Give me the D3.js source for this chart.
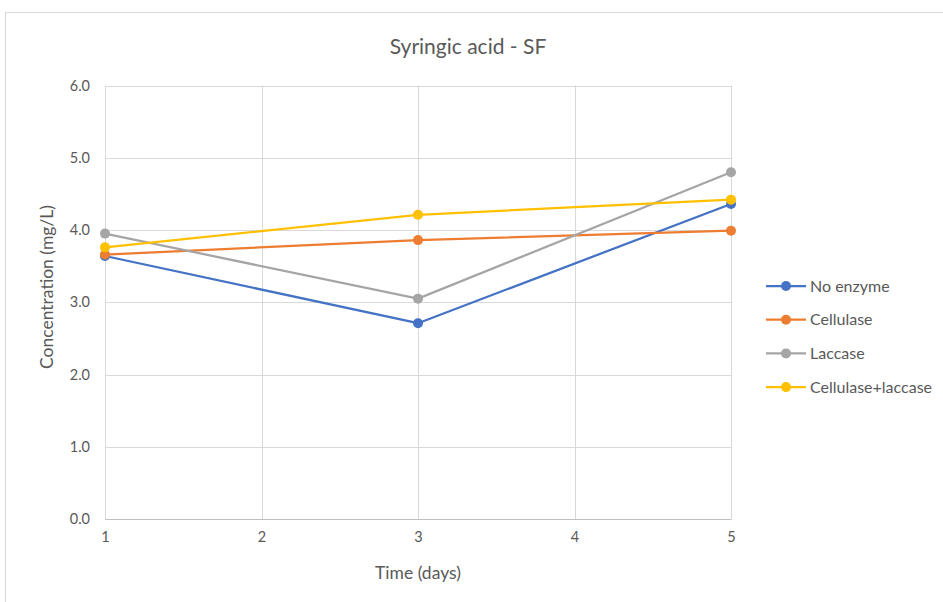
<!DOCTYPE html>
<html><head><meta charset="utf-8">
<script src="https://cdn.jsdelivr.net/npm/d3@7"></script>
<style>body{margin:0;background:#fff;}svg{display:block;font-family:Lato,"Open Sans",sans-serif;}</style>
</head><body><svg id="c" width="943" height="602"></svg>
<script>
const days = [1, 3, 5];
const seriesNames = ["No enzyme", "Cellulase", "Laccase", "Cellulase+laccase"];
const noEnzyme = [3.64, 2.71, 4.36];
const cellulase = [3.66, 3.86, 3.99];
const laccase = [3.95, 3.05, 4.80];
const cellLac = [3.76, 4.21, 4.42];
const colors = ["#4472C4", "#ED7D31", "#A5A5A5", "#FFC000"];
const xTicks = [1, 2, 3, 4, 5];
const yTicks = [0, 1, 2, 3, 4, 5, 6];
const allSeries = [noEnzyme, cellulase, laccase, cellLac];

const FONT = "Lato, 'Open Sans', sans-serif";
const svg = d3.select("#c");
svg.append("rect").attr("x",5.5).attr("y",12.5).attr("width",945).attr("height",600)
  .attr("fill","#fff").attr("stroke","#d9d9d9");

const x = d3.scaleLinear().domain([1,5]).range([105,731]);
const y = d3.scaleLinear().domain([0,6]).range([519,85.5]);

// gridlines
svg.append("g").selectAll("line").data(yTicks).join("line")
  .attr("x1",105).attr("x2",731).attr("y1",d=>Math.round(y(d))+0.5).attr("y2",d=>Math.round(y(d))+0.5)
  .attr("stroke","#d9d9d9").attr("stroke-width",1);
svg.append("g").selectAll("line").data(xTicks).join("line")
  .attr("y1",85.5).attr("y2",519).attr("x1",d=>Math.round(x(d))+0.5).attr("x2",d=>Math.round(x(d))+0.5)
  .attr("stroke","#d9d9d9").attr("stroke-width",1);

// axes
const yAxis = svg.append("g").attr("transform","translate(105,0)")
  .call(d3.axisLeft(y).tickValues(yTicks).tickFormat(d3.format(".1f")).tickSize(0).tickPadding(15))
  .attr("font-family",FONT).attr("font-size",14.5);
yAxis.select(".domain").remove();
yAxis.selectAll("text").attr("fill","#595959");
const xAxis = svg.append("g").attr("transform","translate(0,519)")
  .call(d3.axisBottom(x).tickValues(xTicks).tickFormat(d3.format("d")).tickSize(0).tickPadding(13))
  .attr("font-family",FONT).attr("font-size",14.5);
xAxis.select(".domain").attr("stroke","#bfbfbf");
xAxis.selectAll("text").attr("fill","#595959");

// lines
const line = d3.line().x((d,i)=>x(days[i])).y(d=>y(d));
allSeries.forEach((s,k)=>{
  svg.append("path").datum(s).attr("d",line).attr("fill","none")
    .attr("stroke",colors[k]).attr("stroke-width",2.25).attr("stroke-linejoin","round");
  svg.append("g").selectAll("circle").data(s).join("circle")
    .attr("cx",(d,i)=>x(days[i])).attr("cy",d=>y(d)).attr("r",5).attr("fill",colors[k]);
});

// title & labels
svg.append("text").attr("x",468).attr("y",54).attr("text-anchor","middle")
  .attr("fill","#595959").style("font-size","21px").text("Syringic acid - SF");
svg.append("text").attr("x",418).attr("y",579).attr("text-anchor","middle")
  .attr("fill","#595959").style("font-size","17.5px").text("Time (days)");
svg.append("text").attr("transform","translate(53,287) rotate(-90)").attr("text-anchor","middle")
  .attr("fill","#595959").style("font-size","17.5px").text("Concentration (mg/L)");

// legend
const lg = svg.append("g");
seriesNames.forEach((n,k)=>{
  const yy = 286 + k*33.7;
  lg.append("line").attr("x1",766).attr("x2",806).attr("y1",yy).attr("y2",yy)
    .attr("stroke",colors[k]).attr("stroke-width",2.25);
  lg.append("circle").attr("cx",786).attr("cy",yy).attr("r",5).attr("fill",colors[k]);
  lg.append("text").attr("x",810).attr("y",yy+5.5).attr("fill","#595959")
    .style("font-size","16px").text(n);
});
</script></body></html>
